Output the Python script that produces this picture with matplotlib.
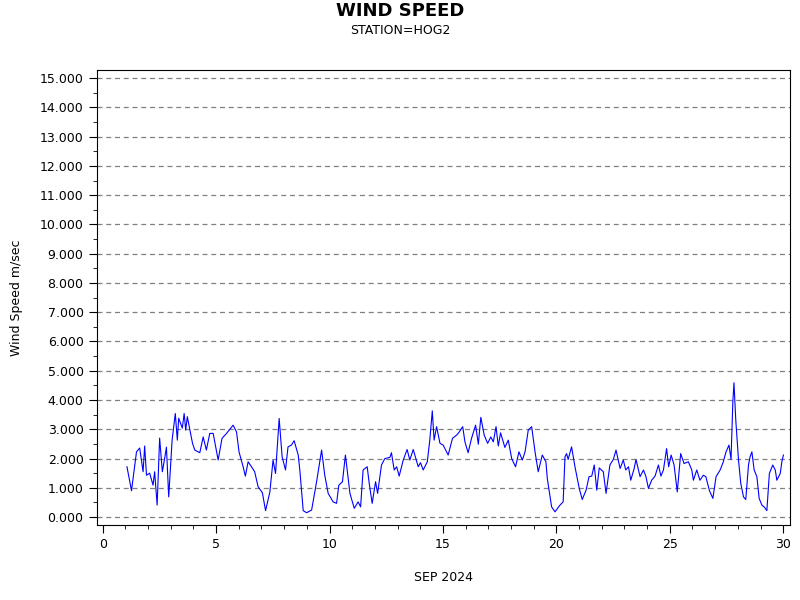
import matplotlib
matplotlib.use("Agg")
import matplotlib.pyplot as plt
from matplotlib.ticker import MultipleLocator, FormatStrFormatter

days = [1.07,1.27,1.49,1.63,1.78,1.85,1.93,2.07,2.22,2.29,2.40,2.51,2.63,2.73,2.81,2.91,3.06,3.20,3.29,3.35,3.51,3.59,3.66,3.73,3.96,4.06,4.28,4.43,4.57,4.72,4.87,5.09,5.26,5.46,5.75,5.90,6.01,6.19,6.29,6.41,6.56,6.70,6.85,7.04,7.18,7.37,7.51,7.62,7.78,7.91,8.06,8.17,8.32,8.44,8.62,8.69,8.84,8.99,9.21,9.43,9.65,9.79,9.94,10.16,10.31,10.41,10.57,10.70,10.90,11.09,11.26,11.37,11.48,11.66,11.75,11.88,12.03,12.12,12.29,12.44,12.66,12.73,12.85,12.96,13.07,13.25,13.42,13.54,13.69,13.91,14.01,14.13,14.31,14.42,14.53,14.61,14.72,14.87,15.01,15.23,15.42,15.60,15.72,15.87,15.97,16.11,16.26,16.44,16.56,16.67,16.82,16.97,17.11,17.22,17.34,17.44,17.54,17.73,17.88,18.03,18.20,18.35,18.50,18.62,18.76,18.91,19.06,19.20,19.38,19.54,19.60,19.79,19.94,20.16,20.30,20.38,20.45,20.52,20.67,20.82,21.01,21.14,21.31,21.44,21.56,21.67,21.78,21.89,22.07,22.19,22.36,22.51,22.63,22.81,22.95,23.06,23.18,23.28,23.43,23.51,23.69,23.84,23.95,24.06,24.20,24.35,24.50,24.61,24.72,24.86,24.95,25.06,25.19,25.33,25.48,25.63,25.82,25.97,26.04,26.19,26.33,26.48,26.59,26.75,26.90,27.04,27.22,27.36,27.48,27.61,27.70,27.78,27.83,27.91,28.03,28.13,28.25,28.35,28.47,28.54,28.62,28.72,28.84,28.94,29.06,29.16,29.28,29.39,29.54,29.65,29.72,29.87,29.94,30.01]
speed = [1.72,0.90,2.23,2.36,1.55,2.43,1.43,1.50,1.09,1.55,0.41,2.70,1.55,2.00,2.39,0.69,2.63,3.54,2.63,3.38,3.04,3.54,2.97,3.43,2.52,2.29,2.20,2.74,2.29,2.86,2.86,1.95,2.69,2.86,3.14,2.91,2.23,1.72,1.40,1.89,1.72,1.55,1.04,0.83,0.22,0.86,1.95,1.49,3.37,2.06,1.61,2.40,2.46,2.61,2.12,1.61,0.22,0.15,0.24,1.21,2.29,1.43,0.81,0.52,0.47,1.09,1.21,2.12,0.81,0.30,0.52,0.35,1.61,1.72,1.15,0.47,1.21,0.81,1.78,2.00,2.04,2.20,1.61,1.72,1.40,1.95,2.31,1.95,2.31,1.72,1.86,1.61,1.89,2.63,3.63,2.63,3.09,2.52,2.46,2.12,2.69,2.80,2.91,3.09,2.57,2.20,2.69,3.14,2.49,3.41,2.80,2.52,2.74,2.57,3.09,2.43,2.88,2.38,2.63,2.00,1.72,2.23,1.95,2.23,2.97,3.09,2.23,1.55,2.12,1.89,1.32,0.35,0.18,0.41,0.52,2.06,2.17,1.97,2.40,1.72,0.98,0.60,0.92,1.38,1.40,1.78,0.92,1.68,1.55,0.81,1.78,1.97,2.29,1.66,1.95,1.61,1.72,1.26,1.66,1.97,1.38,1.61,1.38,0.98,1.26,1.40,1.78,1.40,1.61,2.34,1.72,2.12,1.78,0.86,2.17,1.83,1.89,1.61,1.26,1.61,1.26,1.43,1.38,0.90,0.64,1.38,1.61,1.89,2.23,2.46,1.97,3.94,4.59,3.31,1.95,1.15,0.69,0.60,1.78,2.06,2.23,1.61,1.38,0.64,0.41,0.35,0.22,1.49,1.78,1.61,1.26,1.49,1.89,2.12]

fig = plt.figure(figsize=(8, 6), dpi=100)
ax = fig.add_axes([0.121, 0.125, 0.8665, 0.758])
ax.plot(days, speed, color="blue", linewidth=0.8)
ax.set_xlim(-0.26, 30.3)
ax.set_ylim(-0.27, 15.27)
ax.xaxis.set_major_locator(MultipleLocator(5))
ax.xaxis.set_minor_locator(MultipleLocator(1))
ax.yaxis.set_major_locator(MultipleLocator(1))
ax.yaxis.set_minor_locator(MultipleLocator(0.5))
ax.yaxis.set_major_formatter(FormatStrFormatter("%.3f"))
ax.tick_params(which="both", direction="out", labelsize=9)
ax.tick_params(which="major", length=6)
ax.tick_params(which="minor", length=3)
ax.grid(axis="y", which="major", linestyle=(0, (4, 3)), color="gray", linewidth=0.9)
ax.set_xlabel("SEP 2024", fontsize=9, labelpad=14)
ax.set_ylabel("Wind Speed m/sec", fontsize=9, labelpad=12)
fig.text(0.5, 0.982, "WIND SPEED", ha="center", va="center", fontsize=13, fontweight="bold")
fig.text(0.5, 0.95, "STATION=HOG2", ha="center", va="center", fontsize=9)
fig.savefig("out.png")
